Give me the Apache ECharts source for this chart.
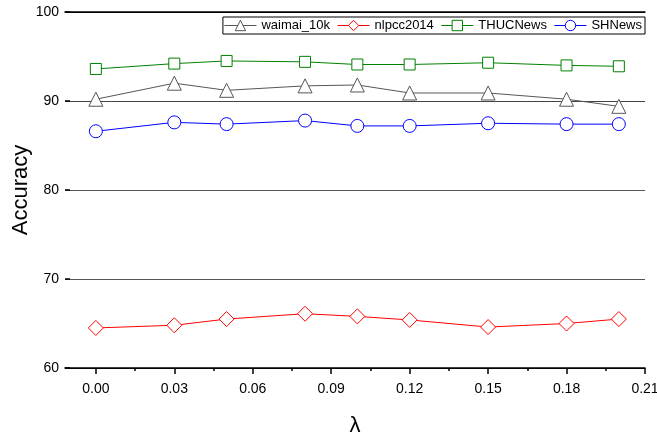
<!DOCTYPE html>
<html>
<head>
<meta charset="utf-8">
<script src="https://cdn.jsdelivr.net/npm/echarts@6/dist/echarts.min.js"></script>
<style>html,body{margin:0;padding:0;background:#fff}#c{width:657px;height:438px}</style>
</head>
<body>
<div id="c"></div>
<script>
var lambdas = [0.00, 0.03, 0.05, 0.08, 0.10, 0.12, 0.15, 0.18, 0.20];
var seriesNames = ['waimai_10k', 'nlpcc2014', 'THUCNews', 'SHNews'];
var waimai = [90.2, 92.0, 91.2, 91.7, 91.8, 90.9, 90.9, 90.2, 89.4];
var nlpcc = [64.5, 64.8, 65.5, 66.1, 65.8, 65.4, 64.6, 65.0, 65.5];
var thuc = [93.6, 94.2, 94.5, 94.4, 94.1, 94.1, 94.3, 94.0, 93.9];
var shnews = [86.6, 87.6, 87.4, 87.8, 87.2, 87.2, 87.5, 87.4, 87.4];
var xMajorTicks = [0.00, 0.03, 0.06, 0.09, 0.12, 0.15, 0.18, 0.21];
var xMinorTicks = [0.015, 0.045, 0.075, 0.105, 0.135, 0.165, 0.195];
var yTicks = [60, 70, 80, 90, 100];

function pairs(vals) { return lambdas.map(function (x, i) { return [x, vals[i]]; }); }

var FONT = '"Liberation Sans", Arial, sans-serif';
var XMIN = -0.0118, XMAX = 0.21;

function mk(name, vals, symbol, size, lineColor, markColor) {
  return {
    name: name, type: 'line', data: pairs(vals), xAxisIndex: 0,
    symbol: symbol, symbolSize: size, showAllSymbol: true,
    lineStyle: { color: lineColor, width: 1 },
    itemStyle: { color: '#fff', borderColor: markColor, borderWidth: 1 },
    emphasis: { disabled: true }, animation: false, z: 3
  };
}

var chart = echarts.init(document.getElementById('c'), null, { renderer: 'canvas' });
chart.setOption({
  animation: false,
  textStyle: { fontFamily: FONT },
  grid: { left: 65, right: 12, top: 12, bottom: 70, containLabel: false, outerBoundsMode: 'none' },
  legend: {
    data: seriesNames, right: 12, top: 17,
    orient: 'horizontal', itemWidth: 32, itemHeight: 13, itemGap: 7,
    borderColor: '#000', borderWidth: 1, padding: [2, 3, 2, 1],
    textStyle: { fontFamily: FONT, fontSize: 13, color: '#000' },
    itemStyle: { borderWidth: 1 },
    lineStyle: { width: 1 },
    backgroundColor: '#fff'
  },
  xAxis: [
    {
      type: 'value', min: XMIN, max: XMAX, position: 'bottom',
      name: 'λ', nameLocation: 'middle', nameGap: 47, nameMoveOverlap: false,
      nameTextStyle: { fontFamily: FONT, fontSize: 22, color: '#000' },
      axisLine: { show: true, onZero: false, lineStyle: { color: '#000', width: 1.5 } },
      axisTick: { show: true, inside: false, length: 6, customValues: xMajorTicks, lineStyle: { color: '#000', width: 1.5 } },
      axisLabel: { show: true, customValues: xMajorTicks, margin: 14, fontSize: 14, color: '#000', fontFamily: FONT,
        formatter: function (v) { return v.toFixed(2); } },
      splitLine: { show: false }
    },
    {
      type: 'value', min: XMIN, max: XMAX, position: 'bottom', offset: 0,
      axisLine: { show: false, onZero: false },
      axisTick: { show: true, inside: false, length: 3, customValues: xMinorTicks, lineStyle: { color: '#000', width: 1.5 } },
      axisLabel: { show: false }, splitLine: { show: false }
    },
    {
      type: 'value', min: XMIN, max: XMAX, position: 'top', offset: 0,
      axisLine: { show: true, onZero: false, lineStyle: { color: '#000', width: 1.5 } },
      axisTick: { show: false }, axisLabel: { show: false }, splitLine: { show: false }
    }
  ],
  yAxis: {
    type: 'value', min: 60, max: 100, interval: 10, position: 'left',
    name: 'Accuracy', nameLocation: 'middle', nameGap: 33, nameRotate: 90, nameMoveOverlap: false,
    nameTextStyle: { fontFamily: FONT, fontSize: 22, color: '#000' },
    axisLine: { show: false, onZero: false },
    axisTick: { show: true, inside: true, length: 5, lineStyle: { color: '#000', width: 1.5 } },
    axisLabel: { margin: 6, fontSize: 14, color: '#000', fontFamily: FONT },
    splitLine: { show: true, lineStyle: { color: ['#000', '#555', '#555', '#444', '#000'], width: 1 } }
  },
  series: [
    mk(seriesNames[0], waimai, 'triangle', 14, '#555', '#555'),
    mk(seriesNames[1], nlpcc, 'diamond', 15, '#ff0000', '#ff0000'),
    mk(seriesNames[2], thuc, 'rect', 11, '#008000', '#008000'),
    mk(seriesNames[3], shnews, 'circle', 13, '#0000ff', '#0000ff')
  ]
});
</script>
</body>
</html>
